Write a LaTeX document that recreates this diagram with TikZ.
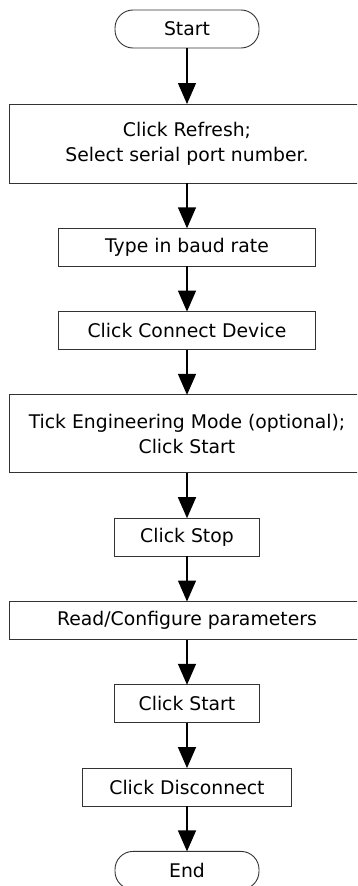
\documentclass[tikz,border=0pt]{standalone}
\usepackage{fontspec}
\setmainfont{DejaVu Sans}
\usepackage{tikz}
\usetikzlibrary{positioning,shapes,arrows.meta}

\begin{document}
\begin{tikzpicture}[x=1pt,y=1pt,
                    node distance=45.3pt,
                    font=\fontsize{18.8}{25}\selectfont,
                    stepbox/.style={draw=black!80, line width=0.9pt, outer sep=0pt, align=center, inner sep=0pt, minimum height=38pt},
                    widebox/.style={stepbox, minimum width=356pt},
                    termbox/.style={stepbox, rounded corners=18pt, minimum width=144pt},
                    flow/.style={line width=1.4pt, -{Triangle[length=21pt,width=18pt]}}]
                \clip (0,0) rectangle (357,-886);
                \node[termbox] (start) at (187,-29) {Start};
                \node[widebox, minimum height=79pt, below=56pt of start] (refresh) {Click Refresh;\\Select serial port number.};
                \node[stepbox, minimum width=257pt, below=of refresh] (baud) {Type in baud rate};
                \node[stepbox, minimum width=257pt, below=of baud] (connect) {Click Connect Device};
                \node[widebox, minimum height=78pt, below=of connect] (tick) {Tick Engineering Mode (optional);\\Click Start};
                \node[stepbox, minimum width=145pt, below=of tick] (stop) {Click Stop};
                \node[widebox, below=of stop] (config) {Read/Configure parameters};
                \node[stepbox, minimum width=145pt, below=of config] (restart) {Click Start};
                \node[stepbox, minimum width=209pt, below=of restart] (disconnect) {Click Disconnect};
                \node[termbox, below=of disconnect] (end) {End};
                % arrows between steps
                \draw[flow] (start) -- (refresh);
                \draw[flow] (refresh) -- (baud);
                \draw[flow] (baud) -- (connect);
                \draw[flow] (connect) -- (tick);
                \draw[flow] (tick) -- (stop);
                \draw[flow] (stop) -- (config);
                \draw[flow] (config) -- (restart);
                \draw[flow] (restart) -- (disconnect);
                \draw[flow] (disconnect) -- (end);
\end{tikzpicture}
\end{document}
